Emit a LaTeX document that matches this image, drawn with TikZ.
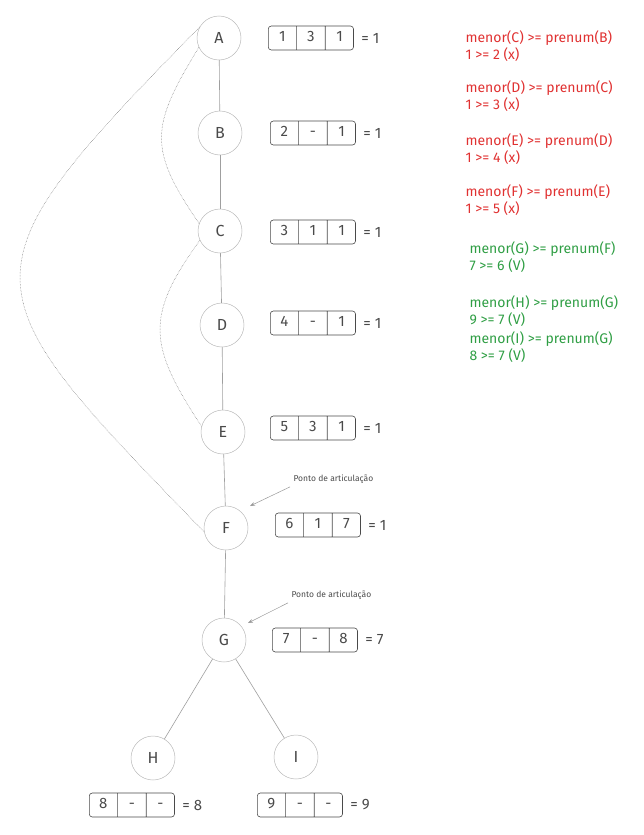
\documentclass[tikz,border=0pt]{standalone}
\usepackage{fontspec}
\setmainfont{Fira Sans}
\usetikzlibrary{shapes.multipart,arrows.meta,positioning}
\definecolor{ink}{HTML}{4A4A4A}
\definecolor{ered}{HTML}{E03131}
\definecolor{egreen}{HTML}{2F9E44}
\newcommand{\cell}[1]{\makebox[18pt]{\strut #1}}

\begin{document}
\begin{tikzpicture}[x=1pt,y=-1pt,
  vert/.style={circle, draw=gray!55, line width=0.5pt, minimum size=44pt, inner sep=0pt, text=ink, font=\fontsize{16}{19}\selectfont},
  edge/.style={draw=gray!75, line width=0.6pt},
  back/.style={draw=black!55, line width=0.5pt, densely dotted},
  trio/.style={rectangle split, rectangle split horizontal, rectangle split parts=3, draw=ink, line width=0.6pt, rounded corners=3pt, inner xsep=5pt, inner ysep=3.5pt, text=ink, font=\fontsize{15}{17}\selectfont, anchor=west},
  eq/.style={text=ink, font=\fontsize{15}{17}\selectfont},
  cond/.style={align=left, anchor=west, font=\fontsize{14}{16.5}\selectfont},
  note/.style={text=ink, font=\fontsize{8.5}{10}\selectfont, anchor=west}]
\useasboundingbox (0,0) rectangle (643,835);

% vertices
\foreach \n/\x/\y in {A/219/38, B/220/133, C/220/231, D/222/325, E/223/432, F/226/528, G/224/640, H/153/758, I/296/757}{
	\node[vert] (\n) at (\x,\y) {\n};
}
\foreach \u/\v in {A/B, B/C, C/D, D/E, E/F, F/G, G/H, G/I}{
	\draw[edge] (\u)--(\v);
}

% back edges
\draw[back] (A.150) .. controls (-45,276) and (-36,285) .. (F.190);
\draw[back] (A.205) .. controls (150,127) and (148,149) .. (C.160);
\draw[back] (C.205) .. controls (145,316) and (148,345) .. (E.165);

% prenum / menor / low
\foreach \n/\x/\y/\a/\b/\c/\r in {A/268/38/1/3/1/1, B/270/133/2/-/1/1, C/270/232/3/1/1/1, D/270/323/4/-/1/1, E/270/428/5/3/1/1, F/275/525/6/1/7/1, G/272/640/7/-/8/7, H/89/805/8/-/-/8, I/257/805/9/-/-/9}{
	\node[trio] (t\n) at (\x,\y) {\cell{\a}\nodepart{two}\cell{\b}\nodepart{three}\cell{\c}};
	\node[eq, right=4pt of t\n] (e\n) {= \r};
}

% articulation points
\node[note] (pF) at (290,479) {Ponto de articulação};
\node[note] (pG) at (288,595) {Ponto de articulação};
\coordinate (aF) at (250,506);
\coordinate (aG) at (248,623);
\draw[gray!80, line width=0.5pt, -{Stealth[length=5pt]}] (pF.south west) -- (aF);
\draw[gray!80, line width=0.5pt, -{Stealth[length=5pt]}] (pG.south west) -- (aG);

% tests
\node[cond, text=ered] (r1) at (462,46) {menor(C) >= prenum(B)\\1 >= 2 (x)};
\node[cond, text=ered] (r2) at (462,96) {menor(D) >= prenum(C)\\1 >= 3 (x)};
\node[cond, text=ered] (r3) at (462,149) {menor(E) >= prenum(D)\\1 >= 4 (x)};
\node[cond, text=ered] (r4) at (462,200) {menor(F) >= prenum(E)\\1 >= 5 (x)};
\node[cond, text=egreen] (g1) at (466,257) {menor(G) >= prenum(F)\\7 >= 6 (V)};
\node[cond, text=egreen] (g2) at (466,311) {menor(H) >= prenum(G)\\9 >= 7 (V)};
\node[cond, text=egreen] (g3) at (466,347) {menor(I) >= prenum(G)\\8 >= 7 (V)};
\end{tikzpicture}
\end{document}
